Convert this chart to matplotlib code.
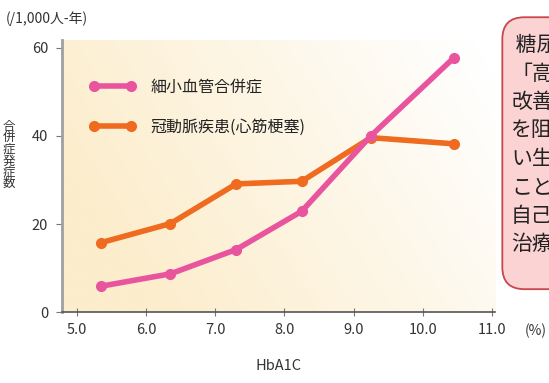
import matplotlib
import numpy as np

matplotlib.use("Agg")
import matplotlib.pyplot as plt
from matplotlib.colors import to_rgb
from matplotlib.patches import FancyBboxPatch

plt.rcParams["font.family"] = ["Noto Sans CJK JP", "DejaVu Sans"]

hba1c = [5.35, 6.35, 7.3, 8.25, 9.25, 10.45]
microvascular = [5.9, 8.7, 14.2, 22.9, 40.0, 57.7]
coronary = [15.8, 20.1, 29.1, 29.7, 39.6, 38.2]
series_labels = ["細小血管合併症", "冠動脈疾患(心筋梗塞)"]
x_ticks = [5.0, 6.0, 7.0, 8.0, 9.0, 10.0, 11.0]
y_ticks = [0, 20, 40, 60]
box_lines = [" 糖尿", "「高", "改善", "を阻", "い生", "こと", "自己", "治療"]

PINK = "#e8559e"
ORANGE = "#ee6b1f"
TEXT = "#333333"

fig = plt.figure(figsize=(5.49, 3.83), dpi=100)
ax = fig.add_axes([0.113, 0.185, 0.789, 0.711])
ax.set_xlim(4.78, 11.05)
ax.set_ylim(0, 61.8)

# cream gradient behind the plot
gx, gy = np.meshgrid(np.linspace(0, 1, 200), np.linspace(0, 1, 120))
w = np.clip(1.2 - 0.9 * gx - 0.35 * gy, 0, 1)[..., None]
cream = np.array(to_rgb("#fcedcc"))
img = w * cream + (1 - w) * np.ones(3)
ax.imshow(img, extent=(4.78, 11.05, 0, 61.8), origin="lower", aspect="auto", zorder=0)

ax.plot(hba1c, coronary, color=ORANGE, lw=4, marker="o", ms=7, label=series_labels[1], zorder=3)
ax.plot(hba1c, microvascular, color=PINK, lw=4, marker="o", ms=7, label=series_labels[0], zorder=4)

handles, labels = ax.get_legend_handles_labels()
ax.legend(handles[::-1], labels[::-1], loc="upper left", bbox_to_anchor=(0.03, 0.91),
          frameon=False, numpoints=2, handlelength=2.9, fontsize=11.5,
          labelspacing=1.45, handletextpad=0.9, labelcolor="#222222")

ax.set_xticks(x_ticks)
ax.set_xticklabels([f"{v:.1f}" for v in x_ticks])
ax.set_yticks(y_ticks)
ax.tick_params(axis="x", direction="inout", length=6, colors="#777777", labelcolor=TEXT,
               labelsize=10.5, pad=5)
ax.tick_params(axis="y", direction="out", length=4, colors="#777777", labelcolor=TEXT,
               labelsize=10.5, pad=6)
for s in ("top", "right"):
    ax.spines[s].set_visible(False)
ax.spines["left"].set_color("#a0a0a0")
ax.spines["left"].set_linewidth(2)
ax.spines["bottom"].set_color("#555555")
ax.spines["bottom"].set_linewidth(1.2)

ax.set_xlabel("HbA1C", fontsize=10.5, color=TEXT, labelpad=16)
fig.text(0.975, 0.135, "(%)", fontsize=10, color=TEXT, ha="center", va="center")
fig.text(0.01, 0.952, "(/1,000人-年)", fontsize=10, color=TEXT, ha="left", va="center")
fig.text(0.016, 0.595, "合\n併\n症\n発\n症\n数", fontsize=9, color=TEXT, ha="center",
         va="center", linespacing=0.85)

# callout box on the right, cut by the figure edge as in the source image
box = FancyBboxPatch((0.915, 0.245), 0.2, 0.71, boxstyle="round,pad=0,rounding_size=0.04",
                     transform=fig.transFigure, facecolor="#fbd3d3", edgecolor="#c9474c",
                     lw=1.3, zorder=5, mutation_aspect=549 / 383)
fig.patches.append(box)
for i, line in enumerate(box_lines):
    fig.text(0.931, 0.882 - i * 0.0742, line, fontsize=15, color="#222222",
             ha="left", va="center", zorder=6)

fig.savefig("out.png", dpi=100)
